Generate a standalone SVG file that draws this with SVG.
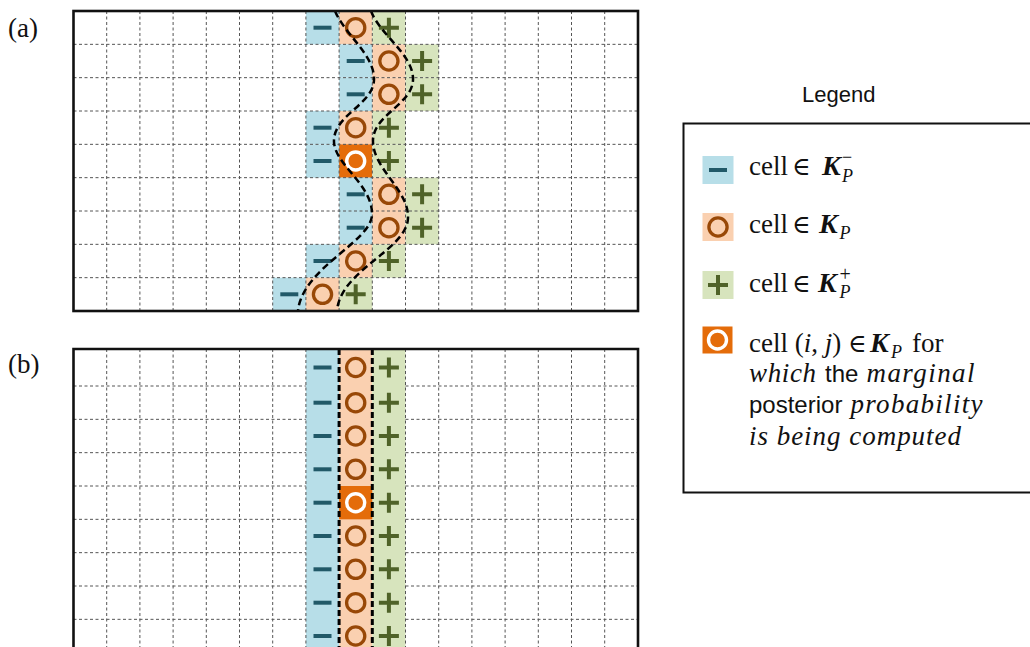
<svg xmlns="http://www.w3.org/2000/svg" width="1030" height="647" viewBox="0 0 1030 647">
<style>
.bl{fill:#b7dee8}.or{fill:#fad0b0}.gr{fill:#d7e4bd}.dk{fill:#e46c0a}
.grid{stroke:#555;stroke-width:1;stroke-dasharray:3 2.5;fill:none}
.frame{fill:none;stroke:#111;stroke-width:2.6}
.curve{fill:none;stroke:#000;stroke-width:2.5;stroke-dasharray:7 4}
.vline{fill:none;stroke:#000;stroke-width:3;stroke-dasharray:6 3}
.serif{font-family:"Liberation Serif","DejaVu Serif",serif;fill:#111}
.math{font-family:"DejaVu Serif","Liberation Serif",serif;fill:#111}
.sans{font-family:"Liberation Sans","DejaVu Sans",sans-serif;fill:#111}
.it{font-style:italic}
.bi{font-style:italic;font-weight:bold}
</style>
<defs>
<path id="minus" d="M-9,0H9" stroke="#215968" stroke-width="4"/>
<circle id="ring" r="9.1" fill="none" stroke="#984807" stroke-width="3.3"/>
<path id="plus" d="M-10,0H10M0,-10V10" stroke="#4f6228" stroke-width="4"/>
<circle id="wring" r="9" fill="none" stroke="#fff" stroke-width="3.4"/>
</defs>

<text class="serif" x="8" y="37" font-size="27">(a)</text>
<text class="serif" x="8" y="373" font-size="27">(b)</text>

<g id="panel-a">
<g id="cells-a">
<rect class="bl" x="305.9" y="11" width="33.2" height="33.33"/><rect class="or" x="339.1" y="11" width="33.2" height="33.33"/><rect class="gr" x="372.3" y="11" width="33.2" height="33.33"/>
<rect class="bl" x="339.1" y="44.33" width="33.2" height="33.33"/><rect class="or" x="372.3" y="44.33" width="33.2" height="33.33"/><rect class="gr" x="405.5" y="44.33" width="33.2" height="33.33"/>
<rect class="bl" x="339.1" y="77.67" width="33.2" height="33.33"/><rect class="or" x="372.3" y="77.67" width="33.2" height="33.33"/><rect class="gr" x="405.5" y="77.67" width="33.2" height="33.33"/>
<rect class="bl" x="305.9" y="111" width="33.2" height="33.33"/><rect class="or" x="339.1" y="111" width="33.2" height="33.33"/><rect class="gr" x="372.3" y="111" width="33.2" height="33.33"/>
<rect class="bl" x="305.9" y="144.33" width="33.2" height="33.33"/><rect class="dk" x="339.1" y="144.33" width="33.2" height="33.33"/><rect class="gr" x="372.3" y="144.33" width="33.2" height="33.33"/>
<rect class="bl" x="339.1" y="177.67" width="33.2" height="33.33"/><rect class="or" x="372.3" y="177.67" width="33.2" height="33.33"/><rect class="gr" x="405.5" y="177.67" width="33.2" height="33.33"/>
<rect class="bl" x="339.1" y="211" width="33.2" height="33.33"/><rect class="or" x="372.3" y="211" width="33.2" height="33.33"/><rect class="gr" x="405.5" y="211" width="33.2" height="33.33"/>
<rect class="bl" x="305.9" y="244.33" width="33.2" height="33.33"/><rect class="or" x="339.1" y="244.33" width="33.2" height="33.33"/><rect class="gr" x="372.3" y="244.33" width="33.2" height="33.33"/>
<rect class="bl" x="272.7" y="277.67" width="33.2" height="33.33"/><rect class="or" x="305.9" y="277.67" width="33.2" height="33.33"/><rect class="gr" x="339.1" y="277.67" width="33.2" height="33.33"/>
</g>
<g id="grid-a" class="grid">
<path d="M106.7,11V311M139.9,11V311M173.1,11V311M206.3,11V311M239.5,11V311M272.7,11V311M305.9,11V311M339.1,11V311M372.3,11V311M405.5,11V311M438.7,11V311M471.9,11V311M505.1,11V311M538.3,11V311M571.5,11V311M604.7,11V311"/>
<path d="M73.5,44.33H638M73.5,77.67H638M73.5,111H638M73.5,144.33H638M73.5,177.67H638M73.5,211H638M73.5,244.33H638M73.5,277.67H638"/>
</g>
<g id="symbols-a">
<use href="#minus" x="322.5" y="27.7"/><use href="#ring" x="355.7" y="27.7"/><use href="#plus" x="388.9" y="27.7"/>
<use href="#minus" x="355.7" y="61"/><use href="#ring" x="388.9" y="61"/><use href="#plus" x="422.1" y="61"/>
<use href="#minus" x="355.7" y="94.3"/><use href="#ring" x="388.9" y="94.3"/><use href="#plus" x="422.1" y="94.3"/>
<use href="#minus" x="322.5" y="127.7"/><use href="#ring" x="355.7" y="127.7"/><use href="#plus" x="388.9" y="127.7"/>
<use href="#minus" x="322.5" y="161"/><use href="#wring" x="355.7" y="161"/><use href="#plus" x="388.9" y="161"/>
<use href="#minus" x="355.7" y="194.3"/><use href="#ring" x="388.9" y="194.3"/><use href="#plus" x="422.1" y="194.3"/>
<use href="#minus" x="355.7" y="227.7"/><use href="#ring" x="388.9" y="227.7"/><use href="#plus" x="422.1" y="227.7"/>
<use href="#minus" x="322.5" y="261"/><use href="#ring" x="355.7" y="261"/><use href="#plus" x="388.9" y="261"/>
<use href="#minus" x="289.3" y="294.3"/><use href="#ring" x="322.5" y="294.3"/><use href="#plus" x="355.7" y="294.3"/>
</g>
<g id="connectors-a">
<path class="curve" d="M335,11C345,35 375,55 374,80C373,105 333,115 334,142C335,165 373,185 372,215C371,242 302,268 298,311"/>
<path class="curve" d="M371,11C380,35 414,55 413,80C412,105 372,115 373,142C374,170 409,190 408,218C407,250 340,270 337,311"/>
</g>
<rect class="frame" x="73.5" y="11" width="564.5" height="300"/>
</g>

<g id="panel-b">
<g id="cells-b">
<rect class="bl" x="305.9" y="349" width="33.2" height="310"/>
<rect class="or" x="339.1" y="349" width="33.2" height="310"/>
<rect class="gr" x="372.3" y="349" width="33.2" height="310"/>
<rect class="dk" x="339.1" y="486" width="33.2" height="33.33"/>
</g>
<g id="grid-b" class="grid">
<path d="M106.7,349V647M139.9,349V647M173.1,349V647M206.3,349V647M239.5,349V647M272.7,349V647M305.9,349V647M405.5,349V647M438.7,349V647M471.9,349V647M505.1,349V647M538.3,349V647M571.5,349V647M604.7,349V647"/>
<path d="M73.5,386H305.9M73.5,419.33H305.9M73.5,452.67H305.9M73.5,486H305.9M73.5,519.33H305.9M73.5,552.67H305.9M73.5,586H305.9M73.5,619.33H305.9"/>
<path d="M405.5,386H638M405.5,419.33H638M405.5,452.67H638M405.5,486H638M405.5,519.33H638M405.5,552.67H638M405.5,586H638M405.5,619.33H638"/>
</g>
<g id="symbols-b">
<use href="#minus" x="322.5" y="367.5"/><use href="#ring" x="355.7" y="367.5"/><use href="#plus" x="388.9" y="367.5"/>
<use href="#minus" x="322.5" y="402.7"/><use href="#ring" x="355.7" y="402.7"/><use href="#plus" x="388.9" y="402.7"/>
<use href="#minus" x="322.5" y="436"/><use href="#ring" x="355.7" y="436"/><use href="#plus" x="388.9" y="436"/>
<use href="#minus" x="322.5" y="469.3"/><use href="#ring" x="355.7" y="469.3"/><use href="#plus" x="388.9" y="469.3"/>
<use href="#minus" x="322.5" y="502.7"/><use href="#wring" x="355.7" y="502.7"/><use href="#plus" x="388.9" y="502.7"/>
<use href="#minus" x="322.5" y="536"/><use href="#ring" x="355.7" y="536"/><use href="#plus" x="388.9" y="536"/>
<use href="#minus" x="322.5" y="569.3"/><use href="#ring" x="355.7" y="569.3"/><use href="#plus" x="388.9" y="569.3"/>
<use href="#minus" x="322.5" y="602.7"/><use href="#ring" x="355.7" y="602.7"/><use href="#plus" x="388.9" y="602.7"/>
<use href="#minus" x="322.5" y="636"/><use href="#ring" x="355.7" y="636"/><use href="#plus" x="388.9" y="636"/>
</g>
<g id="connectors-b">
<path class="vline" d="M339.1,349V647"/>
<path class="vline" d="M372.3,349V647"/>
</g>
<path class="frame" d="M73.5,660V349H638V660"/>
</g>

<g id="legend">
<text class="sans" x="802" y="101.5" font-size="22">Legend</text>
<rect x="683.5" y="123.5" width="360" height="369" fill="none" stroke="#111" stroke-width="2"/>
<g id="legend-minus">
<rect class="bl" x="702.5" y="156" width="31" height="28"/>
<use href="#minus" x="718" y="170"/>
<text class="serif" x="749" y="175" font-size="27">cell</text>
<text class="math" x="792" y="175" font-size="25">∈</text>
<text class="serif bi" x="822" y="175" font-size="28">K</text>
<text class="serif" x="842" y="163" font-size="18">−</text>
<text class="serif it" x="842" y="181.5" font-size="18">P</text>
</g>
<g id="legend-ring">
<rect class="or" x="702.5" y="213" width="31" height="28"/>
<use href="#ring" x="718" y="227"/>
<text class="serif" x="749" y="233" font-size="27">cell</text>
<text class="math" x="792" y="233" font-size="25">∈</text>
<text class="serif bi" x="819" y="233" font-size="28">K</text>
<text class="serif it" x="839.5" y="239" font-size="18">P</text>
</g>
<g id="legend-plus">
<rect class="gr" x="702.5" y="271" width="31" height="28"/>
<use href="#plus" x="718" y="285"/>
<text class="serif" x="749" y="291.5" font-size="27">cell</text>
<text class="math" x="792" y="291.5" font-size="25">∈</text>
<text class="serif bi" x="818" y="291.5" font-size="28">K</text>
<text class="serif" x="839.5" y="281" font-size="20">+</text>
<text class="serif it" x="839.5" y="298" font-size="18">P</text>
</g>
<g id="legend-current">
<rect class="dk" x="702.5" y="326.5" width="30" height="27"/>
<use href="#wring" x="717.5" y="340"/>
<text class="serif" x="749" y="351.5" font-size="27">cell (<tspan class="it">i</tspan>, <tspan class="it">j</tspan>)</text>
<text class="math" x="848" y="351.5" font-size="25">∈</text>
<text class="serif bi" x="870" y="351.5" font-size="28">K</text>
<text class="serif it" x="891" y="358" font-size="18">P</text>
<text class="serif" x="912" y="351.5" font-size="27">for</text>
<text class="serif it" x="749" y="381.5" font-size="27" textLength="67" lengthAdjust="spacing">which</text>
<text class="sans" x="825" y="381.5" font-size="24">the</text>
<text class="serif it" x="866.5" y="381.5" font-size="27" textLength="108" lengthAdjust="spacing">marginal</text>
<text class="sans" x="749" y="413" font-size="24">posterior</text>
<text class="serif it" x="850.5" y="413" font-size="27" textLength="132" lengthAdjust="spacing">probability</text>
<text class="serif it" x="749" y="444.5" font-size="27" textLength="212" lengthAdjust="spacing">is being computed</text>
</g>
</g>
</svg>
